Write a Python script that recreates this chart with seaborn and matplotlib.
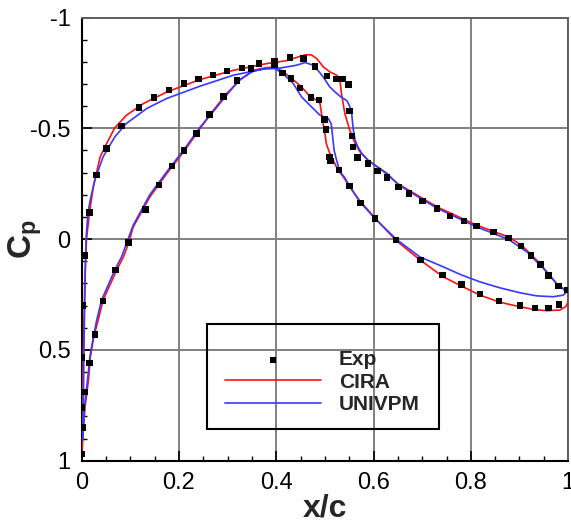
import matplotlib
matplotlib.use("Agg")
import matplotlib.pyplot as plt
from matplotlib.patches import Rectangle
from matplotlib.ticker import MultipleLocator, FixedLocator, FixedFormatter
import seaborn as sns
import pandas as pd

# Experimental pressure taps, upper branch (leading edge -> trailing edge)
exp_upper_x = [0.000, 0.002, 0.000, 0.000, 0.003, 0.006, 0.016, 0.031, 0.051, 0.082,
               0.118, 0.149, 0.180, 0.210, 0.240, 0.270, 0.299, 0.330, 0.365, 0.396,
               0.428, 0.456, 0.480, 0.504, 0.524, 0.536, 0.549, 0.551, 0.556, 0.558,
               0.567, 0.589, 0.608, 0.628, 0.651, 0.673, 0.701, 0.730, 0.757, 0.786,
               0.812, 0.847, 0.877, 0.903, 0.924, 0.943, 0.960, 0.980, 0.998]
exp_upper_cp = [0.97, 0.85, 0.76, 0.535, 0.30, 0.074, -0.12, -0.29, -0.41, -0.51,
                -0.594, -0.639, -0.672, -0.702, -0.722, -0.740, -0.758, -0.773, -0.792, -0.804,
                -0.820, -0.815, -0.780, -0.737, -0.722, -0.722, -0.698, -0.579, -0.465, -0.416,
                -0.369, -0.341, -0.307, -0.277, -0.236, -0.206, -0.171, -0.138, -0.105, -0.081,
                -0.059, -0.033, -0.006, 0.032, 0.074, 0.114, 0.165, 0.212, 0.230]

# Experimental pressure taps, lower branch
exp_lower_x = [0.007, 0.016, 0.027, 0.044, 0.070, 0.096, 0.131, 0.159, 0.186, 0.210,
               0.236, 0.263, 0.292, 0.319, 0.348, 0.396, 0.413, 0.430, 0.449, 0.471,
               0.488, 0.499, 0.502, 0.509, 0.512, 0.529, 0.551, 0.573, 0.603, 0.646,
               0.697, 0.742, 0.781, 0.819, 0.858, 0.901, 0.932, 0.960, 0.981]
exp_lower_cp = [0.69, 0.56, 0.43, 0.28, 0.14, 0.015, -0.134, -0.244, -0.33, -0.40,
                -0.477, -0.562, -0.644, -0.717, -0.770, -0.785, -0.750, -0.725, -0.683, -0.639,
                -0.627, -0.540, -0.495, -0.371, -0.353, -0.311, -0.239, -0.162, -0.092, 0.005,
                0.095, 0.162, 0.204, 0.248, 0.280, 0.300, 0.310, 0.310, 0.295]

# CIRA solution, traced around the section (upper LE -> TE -> lower -> LE)
cira_x = [0.001, 0.002, 0.003, 0.005, 0.007, 0.010, 0.016, 0.024, 0.038, 0.051,
          0.068, 0.092, 0.127, 0.175, 0.243, 0.312, 0.380, 0.420, 0.445, 0.460,
          0.472, 0.483, 0.497, 0.510, 0.524, 0.531, 0.534, 0.541, 0.551, 0.562,
          0.572, 0.590, 0.613, 0.650, 0.730, 0.812, 0.877, 0.904, 0.942, 0.976,
          0.999, 1.002, 0.995, 0.983, 0.956, 0.928, 0.901, 0.860, 0.819, 0.781,
          0.743, 0.695, 0.647, 0.613, 0.572, 0.551, 0.538, 0.527, 0.517, 0.510,
          0.503, 0.500, 0.495, 0.490, 0.483, 0.469, 0.452, 0.432, 0.414, 0.397,
          0.377, 0.353, 0.325, 0.298, 0.271, 0.246, 0.212, 0.175, 0.140, 0.106,
          0.096, 0.086, 0.072, 0.044, 0.034, 0.025, 0.018, 0.014, 0.007, 0.003,
          0.001]
cira_cp = [0.95, 0.75, 0.55, 0.35, 0.15, 0.0, -0.12, -0.236, -0.371, -0.43,
           -0.502, -0.559, -0.612, -0.664, -0.72, -0.762, -0.792, -0.805, -0.822, -0.832,
           -0.832, -0.815, -0.777, -0.755, -0.740, -0.717, -0.657, -0.567, -0.492, -0.432,
           -0.394, -0.352, -0.319, -0.250, -0.146, -0.063, -0.010, 0.027, 0.110, 0.200,
           0.238, 0.275, 0.305, 0.320, 0.323, 0.317, 0.305, 0.285, 0.253, 0.212,
           0.170, 0.093, 0.007, -0.071, -0.172, -0.236, -0.281, -0.311, -0.356, -0.387,
           -0.430, -0.477, -0.537, -0.612, -0.627, -0.645, -0.687, -0.725, -0.755, -0.777,
           -0.773, -0.762, -0.717, -0.657, -0.582, -0.507, -0.401, -0.296, -0.190, -0.055,
           0.02, 0.08, 0.14, 0.275, 0.365, 0.44, 0.53, 0.636, 0.756, 0.876,
           0.95]

# UNIVPM solution, same ordering
univpm_x = [0.002, 0.004, 0.005, 0.007, 0.009, 0.013, 0.018, 0.027, 0.044, 0.068,
            0.092, 0.134, 0.175, 0.243, 0.312, 0.380, 0.408, 0.442, 0.459, 0.476,
            0.490, 0.497, 0.510, 0.521, 0.531, 0.545, 0.551, 0.555, 0.558, 0.562,
            0.568, 0.576, 0.589, 0.605, 0.627, 0.651, 0.730, 0.812, 0.877, 0.915,
            0.949, 0.976, 0.997, 0.990, 0.969, 0.935, 0.901, 0.860, 0.819, 0.781,
            0.740, 0.695, 0.647, 0.603, 0.572, 0.551, 0.540, 0.531, 0.524, 0.519,
            0.516, 0.513, 0.507, 0.490, 0.471, 0.452, 0.435, 0.414, 0.397, 0.377,
            0.353, 0.325, 0.298, 0.271, 0.243, 0.212, 0.175, 0.140, 0.106, 0.092,
            0.082, 0.068, 0.041, 0.031, 0.023, 0.017, 0.012, 0.006, 0.002]
univpm_cp = [0.90, 0.65, 0.45, 0.20, 0.0, -0.12, -0.18, -0.266, -0.371, -0.461,
             -0.522, -0.590, -0.635, -0.690, -0.740, -0.770, -0.772, -0.785, -0.797, -0.785,
             -0.750, -0.730, -0.687, -0.664, -0.645, -0.625, -0.600, -0.567, -0.500, -0.447,
             -0.415, -0.387, -0.356, -0.330, -0.298, -0.245, -0.140, -0.055, 0.001, 0.057,
             0.132, 0.200, 0.238, 0.253, 0.260, 0.256, 0.242, 0.220, 0.193, 0.162,
             0.122, 0.080, 0.001, -0.093, -0.168, -0.239, -0.280, -0.304, -0.356, -0.400,
             -0.461, -0.520, -0.544, -0.559, -0.600, -0.642, -0.702, -0.747, -0.770, -0.770,
             -0.759, -0.720, -0.650, -0.577, -0.504, -0.409, -0.304, -0.200, -0.063, 0.02,
             0.08, 0.14, 0.275, 0.365, 0.455, 0.53, 0.636, 0.756, 0.907]

x_ticks = [0.0, 0.2, 0.4, 0.6, 0.8, 1.0]
x_tick_labels = ["0", "0.2", "0.4", "0.6", "0.8", "1"]
y_ticks = [-1.0, -0.5, 0.0, 0.5, 1.0]
y_tick_labels = ["-1", "-0.5", "0", "0.5", "1"]

sns.set_style("white")
plt.rcParams["font.family"] = ["Liberation Sans", "DejaVu Sans"]
plt.rcParams["mathtext.fontset"] = "custom"
plt.rcParams["mathtext.rm"] = "Liberation Sans"
plt.rcParams["mathtext.bf"] = "Liberation Sans:bold"
plt.rcParams["axes.unicode_minus"] = False

exp_df = pd.DataFrame({"x": exp_upper_x + exp_lower_x, "cp": exp_upper_cp + exp_lower_cp})
cira_df = pd.DataFrame({"x": cira_x, "cp": cira_cp})
univpm_df = pd.DataFrame({"x": univpm_x, "cp": univpm_cp})

fig = plt.figure(figsize=(5.71, 5.22), dpi=100)
ax = fig.add_axes([0.143, 0.1174, 0.852, 0.849])

ax.grid(True, color="#808080", linewidth=1.4, zorder=0)
ax.set_axisbelow(True)

sns.lineplot(data=cira_df, x="x", y="cp", sort=False, estimator=None, ax=ax,
             color="#ff1010", linewidth=1.2, label="CIRA", zorder=3)
sns.lineplot(data=univpm_df, x="x", y="cp", sort=False, estimator=None, ax=ax,
             color="#3838ff", linewidth=1.2, label="UNIVPM", zorder=3)
sns.scatterplot(data=exp_df, x="x", y="cp", ax=ax, marker="s", s=22, color="black",
                edgecolor="none", label="Exp", zorder=4)

ax.set_xlim(0, 1)
ax.set_ylim(1, -1)

ax.xaxis.set_major_locator(FixedLocator(x_ticks))
ax.xaxis.set_major_formatter(FixedFormatter(x_tick_labels))
ax.yaxis.set_major_locator(FixedLocator(y_ticks))
ax.yaxis.set_major_formatter(FixedFormatter(y_tick_labels))
ax.xaxis.set_minor_locator(MultipleLocator(0.05))
ax.yaxis.set_minor_locator(MultipleLocator(0.1))
ax.tick_params(which="both", direction="in", top=False, right=False,
               left=True, bottom=True, colors="black", labelsize=17)
ax.tick_params(which="major", length=7, width=1.2, pad=8)
ax.tick_params(which="minor", length=3.6, width=1.0)

for side in ("left", "bottom"):
    ax.spines[side].set_color("black")
    ax.spines[side].set_linewidth(1.5)
for side in ("top", "right"):
    ax.spines[side].set_color("#606060")
    ax.spines[side].set_linewidth(1.4)

ax.set_xlabel("x/c", fontsize=23, fontweight="bold", labelpad=0)
ax.set_ylabel(r"$\mathbf{C_p}$", fontsize=24)
ax.yaxis.set_label_coords(-0.077, 0.5)

# Legend: reorder entries and draw inside a hand-placed frame
handles, labels = ax.get_legend_handles_labels()
order = [labels.index("Exp"), labels.index("CIRA"), labels.index("UNIVPM")]
leg = ax.legend([handles[i] for i in order], [labels[i] for i in order],
                loc="upper left", bbox_to_anchor=(0.295, 0.249), frameon=False,
                borderpad=0, borderaxespad=0, handlelength=4.6, handletextpad=0.85,
                labelspacing=0.16, prop={"weight": "bold", "size": 15})
ax.add_patch(Rectangle((0.257, 0.0715), 0.478, 0.237, transform=ax.transAxes,
                       fill=False, edgecolor="black", linewidth=1.5, zorder=5))

fig.savefig("out.png", dpi=100)
